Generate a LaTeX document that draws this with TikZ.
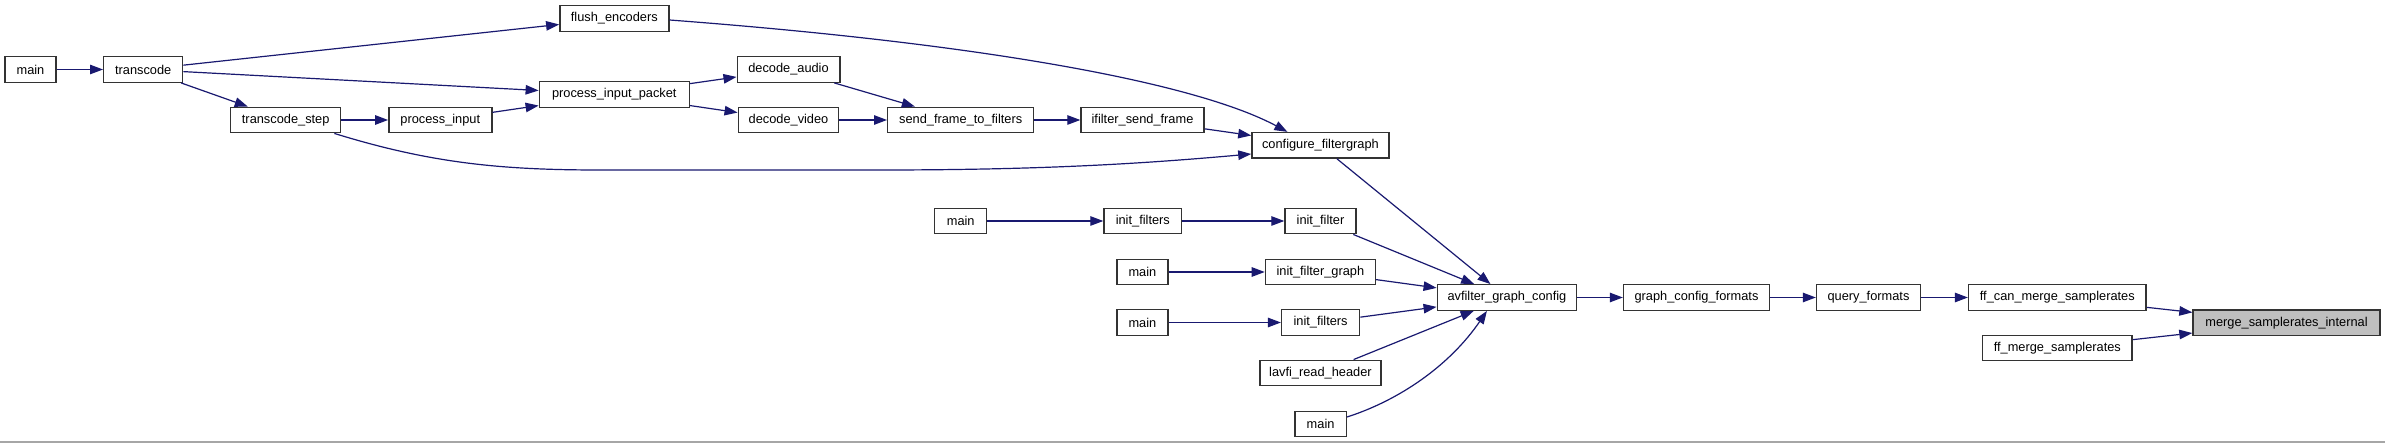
\documentclass[tikz,border=0pt]{standalone}
\usepackage{fontspec}
\setmainfont{Liberation Sans}
\usetikzlibrary{arrows.meta,calc}
\definecolor{edgeblue}{HTML}{191970}
\definecolor{hlgray}{HTML}{BFBFBF}
\definecolor{boxline}{HTML}{333333}
\begin{document}
\begin{tikzpicture}[x=1pt,y=-1pt,
  fn/.style={draw=boxline, line width=1.4pt, fill=white, inner sep=0pt,
    minimum height=25.5pt, font=\fontsize{12.8}{14}\selectfont},
  hl/.style={fn, fill=hlgray},
  e/.style={draw=edgeblue, line width=1.2pt, -{Triangle[length=13pt,width=9.5pt]}}]
\useasboundingbox (0,0) rectangle (2385,443);
\fill[white] (0,0) rectangle (2385,443);
\draw[black!35, line width=1.5pt] (0,442) -- (2385,442);

% nodes
\node[fn, minimum width=51pt]    (m1)   at (30.5,69.5)   {main};
\node[fn, minimum width=79pt]    (tc)   at (143.2,69.5)  {transcode};
\node[fn, minimum width=109pt]   (fe)   at (614.3,18.5)  {flush\_encoders};
\node[fn, minimum width=150pt]   (pip)  at (614.3,94.5)  {process\_input\_packet};
\node[fn, minimum width=102.6pt] (da)   at (788.5,69.5)  {decode\_audio};
\node[fn, minimum width=100.5pt] (dv)   at (788.5,120)   {decode\_video};
\node[fn, minimum width=110pt]   (ts)   at (285.7,120)   {transcode\_step};
\node[fn, minimum width=103pt]   (pi)   at (440.3,120)   {process\_input};
\node[fn, minimum width=146pt]   (sf)   at (960.7,120)   {send\_frame\_to\_filters};
\node[fn, minimum width=123pt]   (isf)  at (1142.5,120)  {ifilter\_send\_frame};
\node[fn, minimum width=137pt]   (cfg)  at (1320.4,145.3){configure\_filtergraph};
\node[fn, minimum width=52pt]    (m2)   at (960.7,221)   {main};
\node[fn, minimum width=77.6pt]  (ifs1) at (1142.8,221)  {init\_filters};
\node[fn, minimum width=71pt]    (if)   at (1320.5,221)  {init\_filter};
\node[fn, minimum width=51pt]    (m3)   at (1142.4,272)  {main};
\node[fn, minimum width=110pt]   (ifg)  at (1320.4,272)  {init\_filter\_graph};
\node[fn, minimum width=51pt]    (m4)   at (1142.4,322.5){main};
\node[fn, minimum width=78pt]    (ifs2) at (1320.6,322.5){init\_filters};
\node[fn, minimum width=121pt]   (lrh)  at (1320.4,373)  {lavfi\_read\_header};
\node[fn, minimum width=51.5pt]  (m5)   at (1320.6,424)  {main};
\node[fn, minimum width=139.3pt] (agc)  at (1506.9,297.5){avfilter\_graph\_config};
\node[fn, minimum width=146pt]   (gcf)  at (1696.5,297.5){graph\_config\_formats};
\node[fn, minimum width=104pt]   (qf)   at (1868.5,297.5){query\_formats};
\node[fn, minimum width=177.5pt] (fcm)  at (2057.3,297.5){ff\_can\_merge\_samplerates};
\node[fn, minimum width=149.5pt] (fms)  at (2057.3,348)  {ff\_merge\_samplerates};
\node[hl, minimum width=187pt]   (msi)  at (2286.5,322.7){merge\_samplerates\_internal};

% edges
\draw[e] (m1) -- (tc);
\draw[e] (tc) -- (fe);
\draw[e] (tc) -- (pip);
\draw[e] (tc) -- (ts);
\draw[e] (ts) -- (pi);
\draw[e] (pi) -- (pip);
\draw[e] (pip) -- (da);
\draw[e] (pip) -- (dv);
\draw[e] (da) -- (sf);
\draw[e] (dv) -- (sf);
\draw[e] (sf) -- (isf);
\draw[e] (isf) -- (cfg);
\draw[e] ($(fe.east)+(0,1.5)$) .. controls (1000,45) and (1200,85) .. ($(cfg.north)+(-33,0)$);
\draw[e] ($(ts.south east)+(-7,0)$) .. controls (430,163) and (500,170) .. (600,170)
   -- (880,170) .. controls (1050,170) and (1150,163) .. ($(cfg.west)+(0,8.7)$);
\draw[e] (cfg) -- (agc);
\draw[e] (m2) -- (ifs1);
\draw[e] (ifs1) -- (if);
\draw[e] (if) -- (agc);
\draw[e] (m3) -- (ifg);
\draw[e] (ifg) -- (agc);
\draw[e] (m4) -- (ifs2);
\draw[e] (ifs2) -- (agc);
\draw[e] (lrh) -- (agc);
\draw[e] ($(m5.east)+(0,-7)$) .. controls (1400,400) and (1450,365) .. ($(agc.south)+(-20,0)$);
\draw[e] (agc) -- (gcf);
\draw[e] (gcf) -- (qf);
\draw[e] (qf) -- (fcm);
\draw[e] (fcm) -- (msi);
\draw[e] (fms) -- (msi);
\end{tikzpicture}
\end{document}
